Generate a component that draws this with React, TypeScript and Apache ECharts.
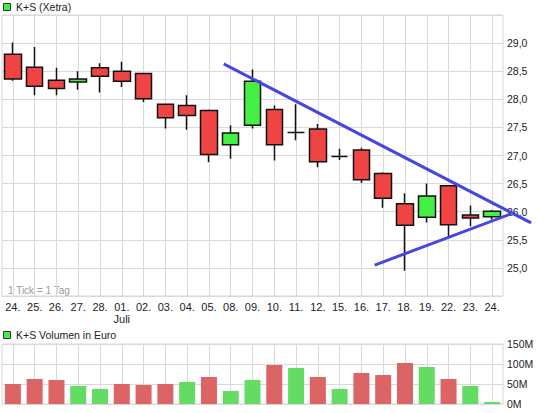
import React, { useEffect, useRef } from "react";
import * as echarts from "echarts";

const categories = ["24.", "25.", "26.", "27.", "28.", "01.", "02.", "03.", "04.", "05.", "08.", "09.", "10.", "11.", "12.", "15.", "16.", "17.", "18.", "19.", "22.", "23.", "24."];
const monthIndex = 5;
const monthName = "Juli";

// open, close, low, high
const opens = [28.80, 28.57, 28.34, 28.31, 28.56, 28.50, 28.46, 27.91, 27.89, 27.80, 27.19, 27.54, 27.82, 27.41, 27.47, 26.98, 27.10, 26.68, 26.14, 25.90, 26.46, 25.94, 25.91];
const closes = [28.36, 28.23, 28.19, 28.36, 28.41, 28.32, 28.01, 27.67, 27.71, 27.02, 27.40, 28.32, 27.19, 27.41, 26.89, 26.98, 26.57, 26.24, 25.76, 26.28, 25.77, 25.89, 26.01];
const lows = [28.33, 28.07, 28.07, 28.17, 28.12, 28.22, 27.95, 27.48, 27.46, 26.88, 26.94, 27.48, 26.91, 27.27, 26.79, 26.92, 26.51, 26.07, 24.95, 25.81, 25.56, 25.74, 25.86];
const highs = [29.01, 28.93, 28.56, 28.50, 28.64, 28.67, 28.47, 27.92, 28.07, 27.82, 27.54, 28.53, 27.89, 27.91, 27.56, 27.12, 27.14, 26.70, 26.33, 26.50, 26.47, 26.11, 26.03];

// volume in million euro, 1 = green, 0 = red
const volumes = [50, 62.5, 60, 45, 37.5, 50, 47.5, 50, 55, 67.5, 32.5, 60, 97.5, 90, 67.5, 37.5, 77.5, 72.5, 102.5, 92.5, 62.5, 45, 5];
const volumeUp = [0, 0, 0, 1, 1, 0, 0, 0, 1, 0, 1, 1, 0, 1, 0, 1, 0, 0, 0, 1, 0, 1, 1];

// trend lines: [category position, price]
const upperTrend = [[9.68, 28.63], [23.79, 25.80]];
const lowerTrend = [[16.61, 25.05], [22.86, 25.96]];

const priceTicks = { min: 24.5, max: 29.5, interval: 0.5 };
const volumeTicks = { min: 0, max: 150, interval: 50 };

const title1 = "K+S (Xetra)";
const title2 = "K+S Volumen in Euro";
const tickNote = "1 Tick = 1 Tag";

const FONT = "Arial, 'Liberation Sans', sans-serif";
const GRID_C = "#d9d9d9";
const RED = "#f04444";
const GREEN = "#44f044";
const VRED = "#dc6464";
const VGREEN = "#64dc64";
const BLUE = "#4646e0";

const PLOT_LEFT = 2;
const PLOT_W = 501;
const OVERLAY_W = 543;

export default function App() {
  const ref = useRef<HTMLDivElement>(null);
  useEffect(() => {
    if (!ref.current) return;
    const chart = echarts.init(ref.current, undefined, { renderer: "svg" });
    const ohlc = opens.map((o, i) => [o, closes[i], lows[i], highs[i]]);
    const vol = volumes.map((v, i) => ({ value: v, itemStyle: { color: volumeUp[i] ? VGREEN : VRED } }));
    const trendStyle = { color: BLUE, width: 3 };
    const n = categories.length;
    chart.setOption({
      animation: false,
      backgroundColor: "#fff",
      textStyle: { fontFamily: FONT },
      grid: [
        { left: PLOT_LEFT, top: 15, width: PLOT_W, height: 281, show: true, borderColor: GRID_C, borderWidth: 1 },
        { left: PLOT_LEFT, top: 344, width: PLOT_W, height: 60, show: true, borderColor: GRID_C, borderWidth: 1 },
        { left: PLOT_LEFT, top: 15, width: OVERLAY_W, height: 281, show: false },
      ],
      xAxis: [
        {
          type: "category", gridIndex: 0, data: categories, boundaryGap: true,
          axisLine: { show: false }, axisTick: { show: false },
          axisLabel: {
            interval: 0, margin: 5, fontSize: 11, color: "#222", lineHeight: 12, fontFamily: FONT,
            formatter: (v: string, i: number) => (i === monthIndex ? v + "\n" + monthName : v),
          },
          splitLine: { show: true, interval: 0, alignWithLabel: true, lineStyle: { color: GRID_C, width: 1 } },
        },
        {
          type: "category", gridIndex: 1, data: categories, boundaryGap: true,
          axisLine: { show: false }, axisTick: { show: false }, axisLabel: { show: false },
          splitLine: { show: true, interval: 0, alignWithLabel: true, lineStyle: { color: GRID_C, width: 1 } },
        },
        { type: "value", gridIndex: 2, min: -0.5, max: -0.5 + (n * OVERLAY_W) / PLOT_W, show: false },
      ],
      yAxis: [
        {
          type: "value", gridIndex: 0, position: "right",
          min: priceTicks.min, max: priceTicks.max, interval: priceTicks.interval,
          axisLine: { show: false }, axisTick: { show: false },
          axisLabel: {
            margin: 4, fontSize: 10.5, color: "#222", fontFamily: FONT, showMinLabel: false, showMaxLabel: false,
            formatter: (v: number) => v.toFixed(1).replace(".", ","),
          },
          splitLine: { show: true, lineStyle: { color: GRID_C, width: 1 } },
        },
        {
          type: "value", gridIndex: 1, position: "right",
          min: volumeTicks.min, max: volumeTicks.max, interval: volumeTicks.interval,
          axisLine: { show: false }, axisTick: { show: false },
          axisLabel: { margin: 4, fontSize: 10.5, color: "#222", fontFamily: FONT, formatter: (v: number) => v + "M" },
          splitLine: { show: true, lineStyle: { color: GRID_C, width: 1 } },
        },
        {
          type: "value", gridIndex: 2, min: priceTicks.min, max: priceTicks.max, show: false,
        },
      ],
      series: [
        {
          type: "candlestick", xAxisIndex: 0, yAxisIndex: 0, data: ohlc, barWidth: 17,
          itemStyle: { color: GREEN, color0: RED, borderColor: "#111", borderColor0: "#111", borderColorDoji: "#111", borderWidth: 1.5 },
          z: 3,
        },
        { type: "line", xAxisIndex: 2, yAxisIndex: 2, data: upperTrend, clip: false, symbol: "none", lineStyle: trendStyle, z: 5, silent: true },
        { type: "line", xAxisIndex: 2, yAxisIndex: 2, data: lowerTrend, clip: false, symbol: "none", lineStyle: trendStyle, z: 5, silent: true },
        { type: "bar", xAxisIndex: 1, yAxisIndex: 1, data: vol, barWidth: 16 },
      ],
      graphic: [
        { type: "rect", shape: { x: 3.5, y: 3.5, width: 7, height: 7 }, style: { fill: GREEN, stroke: "#333", lineWidth: 1 } },
        { type: "text", x: 16, y: 7, style: { text: title1, fontSize: 10.5, fontFamily: FONT, fill: "#222", verticalAlign: "middle" } },
        { type: "rect", shape: { x: 3.5, y: 331.5, width: 7, height: 7 }, style: { fill: GREEN, stroke: "#333", lineWidth: 1 } },
        { type: "text", x: 16, y: 335, style: { text: title2, fontSize: 10.5, fontFamily: FONT, fill: "#222", verticalAlign: "middle" } },
        { type: "text", x: 8, y: 290, style: { text: tickNote, fontSize: 10, fontFamily: FONT, fill: "#9a9a9a", verticalAlign: "middle" } },
      ],
    });
    return () => chart.dispose();
  }, []);
  return <div ref={ref} style={{ position: "absolute", left: 0, top: 0, width: 545, height: 413, background: "#fff" }} />;
}
